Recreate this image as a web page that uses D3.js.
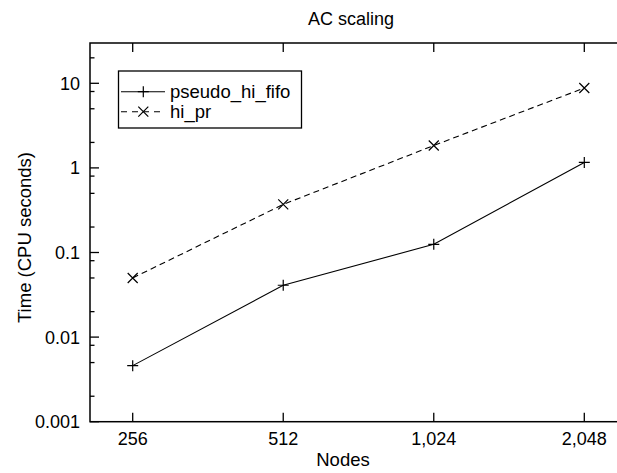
<!DOCTYPE html>
<html>
<head>
<meta charset="utf-8">
<script src="https://cdn.jsdelivr.net/npm/d3@7"></script>
<style>
body { margin: 0; background: #fff; }
text { font-family: "Liberation Sans", Arial, sans-serif; fill: #000; }
</style>
</head>
<body>
<div id="chart1"></div>
<script>
// data
var nodes = [256, 512, 1024, 2048];
var nodeLabels = ["256", "512", "1,024", "2,048"];
var fifoTimes = [0.0046, 0.041, 0.125, 1.16];
var hiPrTimes = [0.05, 0.37, 1.84, 8.8];
var yTicks = [0.001, 0.01, 0.1, 1, 10];
var yTickLabels = ["0.001", "0.01", "0.1", "1", "10"];
var seriesNames = ["pseudo_hi_fifo", "hi_pr"];

var w = 617;
var h = 473;
var plotLeft = 90, plotTop = 43, plotBottom = 421.7, plotRight = 640;

var xScale = d3.scaleLog().base(2)
    .domain([256, 2048])
    .range([132.7, 584.3]);

var yScale = d3.scaleLog()
    .domain([0.001, 10])
    .range([plotBottom, 83.3]);

var svg = d3.select("#chart1")
    .append("svg")
    .attr("width", w)
    .attr("height", h);

// minor ticks at 2, 5, 8 of each decade
var minorTicks = [];
for (var k = -3; k <= 1; k++) {
    [2, 5, 8].forEach(function(m) {
        var v = m * Math.pow(10, k);
        if (yScale(v) > plotTop) minorTicks.push(v);
    });
}

// frame
svg.append("rect")
    .attr("x", plotLeft)
    .attr("y", plotTop)
    .attr("width", plotRight - plotLeft)
    .attr("height", plotBottom - plotTop)
    .attr("fill", "none")
    .attr("stroke", "#000")
    .attr("stroke-width", 1.5);

// y ticks, pointing into the plot
svg.selectAll(".ymajor")
    .data(yTicks)
    .enter()
    .append("line")
    .attr("x1", plotLeft)
    .attr("x2", plotLeft + 9)
    .attr("y1", function(d) { return yScale(d); })
    .attr("y2", function(d) { return yScale(d); })
    .attr("stroke", "#000")
    .attr("stroke-width", 1.3);

svg.selectAll(".yminor")
    .data(minorTicks)
    .enter()
    .append("line")
    .attr("x1", plotLeft)
    .attr("x2", plotLeft + 4.5)
    .attr("y1", function(d) { return yScale(d); })
    .attr("y2", function(d) { return yScale(d); })
    .attr("stroke", "#000")
    .attr("stroke-width", 1.3);

svg.selectAll(".ylab")
    .data(yTicks)
    .enter()
    .append("text")
    .attr("x", 80)
    .attr("y", function(d) { return yScale(d); })
    .attr("dy", "0.36em")
    .attr("text-anchor", "end")
    .style("font-size", "18px")
    .text(function(d, i) { return yTickLabels[i]; });

// x ticks on bottom and top
svg.selectAll(".xbot")
    .data(nodes)
    .enter()
    .append("line")
    .attr("x1", function(d) { return xScale(d); })
    .attr("x2", function(d) { return xScale(d); })
    .attr("y1", plotBottom)
    .attr("y2", plotBottom - 9)
    .attr("stroke", "#000")
    .attr("stroke-width", 1.3);

svg.selectAll(".xtop")
    .data(nodes)
    .enter()
    .append("line")
    .attr("x1", function(d) { return xScale(d); })
    .attr("x2", function(d) { return xScale(d); })
    .attr("y1", plotTop)
    .attr("y2", plotTop + 9)
    .attr("stroke", "#000")
    .attr("stroke-width", 1.3);

svg.selectAll(".xlab")
    .data(nodes)
    .enter()
    .append("text")
    .attr("x", function(d) { return xScale(d); })
    .attr("y", 445)
    .attr("text-anchor", "middle")
    .style("font-size", "18px")
    .text(function(d, i) { return nodeLabels[i]; });

// axis titles
svg.append("text")
    .attr("x", 343)
    .attr("y", 466)
    .attr("text-anchor", "middle")
    .style("font-size", "18.5px")
    .text("Nodes");

svg.append("text")
    .attr("transform", "translate(31," + 237.5 + ") rotate(-90)")
    .attr("text-anchor", "middle")
    .style("font-size", "18.5px")
    .text("Time (CPU seconds)");

svg.append("text")
    .attr("x", 308)
    .attr("y", 25)
    .attr("text-anchor", "start")
    .style("font-size", "18px")
    .text("AC scaling");

// lines
var line = d3.line()
    .x(function(d) { return xScale(d[0]); })
    .y(function(d) { return yScale(d[1]); });

var fifoData = d3.zip(nodes, fifoTimes);
var hiPrData = d3.zip(nodes, hiPrTimes);

svg.append("path")
    .datum(fifoData)
    .attr("d", line)
    .attr("fill", "none")
    .attr("stroke", "#000")
    .attr("stroke-width", 1.1);

svg.append("path")
    .datum(hiPrData)
    .attr("d", line)
    .attr("fill", "none")
    .attr("stroke", "#000")
    .attr("stroke-width", 1.1)
    .attr("stroke-dasharray", "6,4");

// markers
function plus(x, y) {
    return "M" + (x - 5.5) + "," + y + "H" + (x + 5.5) + "M" + x + "," + (y - 5.5) + "V" + (y + 5.5);
}
function cross(x, y) {
    var s = 5;
    return "M" + (x - s) + "," + (y - s) + "L" + (x + s) + "," + (y + s) +
        "M" + (x - s) + "," + (y + s) + "L" + (x + s) + "," + (y - s);
}

svg.selectAll(".pmark")
    .data(fifoData)
    .enter()
    .append("path")
    .attr("d", function(d) { return plus(xScale(d[0]), yScale(d[1])); })
    .attr("stroke", "#000")
    .attr("stroke-width", 1.2);

svg.selectAll(".xmark")
    .data(hiPrData)
    .enter()
    .append("path")
    .attr("d", function(d) { return cross(xScale(d[0]), yScale(d[1])); })
    .attr("stroke", "#000")
    .attr("stroke-width", 1.2);

// legend
var lg = svg.append("g");
lg.append("rect")
    .attr("x", 118.5)
    .attr("y", 71)
    .attr("width", 183)
    .attr("height", 57)
    .attr("fill", "#fff")
    .attr("stroke", "#000")
    .attr("stroke-width", 1.3);

lg.append("line")
    .attr("x1", 121).attr("x2", 165)
    .attr("y1", 91.7).attr("y2", 91.7)
    .attr("stroke", "#000").attr("stroke-width", 1.1);
lg.append("path")
    .attr("d", plus(143.3, 91.7))
    .attr("stroke", "#000").attr("stroke-width", 1.2);

lg.append("line")
    .attr("x1", 121).attr("x2", 165)
    .attr("y1", 111.7).attr("y2", 111.7)
    .attr("stroke", "#000").attr("stroke-width", 1.1)
    .attr("stroke-dasharray", "6,5");
lg.append("path")
    .attr("d", cross(143.3, 111.7))
    .attr("stroke", "#000").attr("stroke-width", 1.2);

lg.selectAll(".ltext")
    .data(seriesNames)
    .enter()
    .append("text")
    .attr("x", 170)
    .attr("y", function(d, i) { return 91.7 + i * 20; })
    .attr("dy", "0.36em")
    .style("font-size", "18.5px")
    .text(function(d) { return d; });
</script>
</body>
</html>
